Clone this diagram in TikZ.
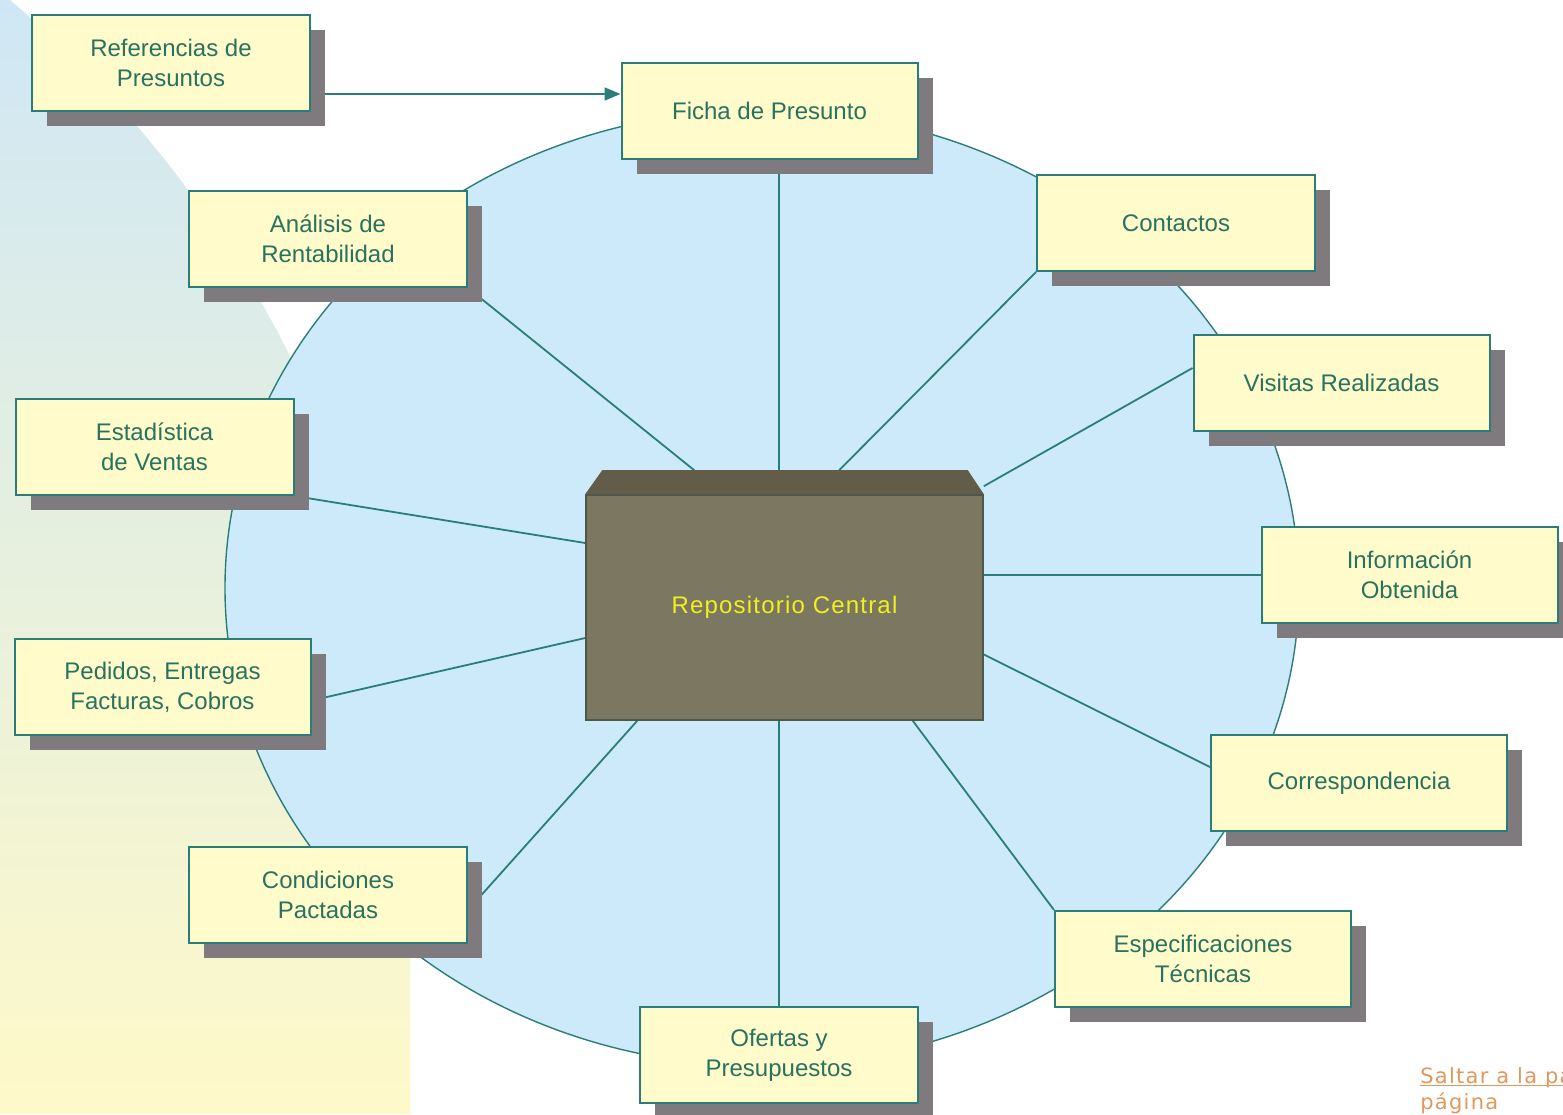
\documentclass[tikz,border=0pt]{standalone}
\usepackage{fontspec}
\setmainfont{Liberation Sans}
\newfontfamily\linkfont{DejaVu Sans}
\usepackage{tikz}
\usetikzlibrary{arrows.meta,calc,shadows,backgrounds}
\definecolor{teal1}{HTML}{2B7D78}
\definecolor{ink}{HTML}{28735F}
\definecolor{paper}{HTML}{FFFBCB}
\definecolor{shdw}{HTML}{7E7A7E}
\definecolor{sky}{HTML}{CDEAFA}
\definecolor{bgtop}{HTML}{CFE7F5}
\definecolor{bgmid}{HTML}{E4F1E4}
\definecolor{bgbot}{HTML}{FEF9C8}
\definecolor{repofill}{HTML}{7B7760}
\definecolor{repoedge}{HTML}{4E5849}
\definecolor{repotop}{HTML}{615D49}
\definecolor{repotxt}{HTML}{F2F01E}
\definecolor{linkc}{HTML}{E0985C}

\begin{document}
\begin{tikzpicture}[x=0.5pt,y=-0.5pt,
  box/.style={draw=teal1,line width=1pt,fill=paper,minimum width=139pt,minimum height=48pt,
    inner sep=2pt,align=center,text=ink,font=\fontsize{12}{15}\selectfont,
    drop shadow={shadow xshift=7.5pt,shadow yshift=-7.5pt,fill=shdw,opacity=1}},
  wide/.style={box,minimum width=148pt},
  spoke/.style={draw=teal1,line width=0.9pt}]
\useasboundingbox (0,0) rectangle (1563,1114);
\node[box](ref) at (171,63){Referencias de\\Presuntos};
\node[wide](ficha) at (769.5,111){Ficha de Presunto};
\node[box](ana) at (328,239){Análisis de\\Rentabilidad};
\node[box](cont) at (1176,223){Contactos};
\node[wide](vis) at (1341.5,383){Visitas Realizadas};
\node[box](est) at (154.5,447){Estadística\\de Ventas};
\node[wide](info) at (1409.5,575){Información\\Obtenida};
\node[wide](ped) at (162.5,687){Pedidos, Entregas\\Facturas, Cobros};
\node[wide](corr) at (1359,783){Correspondencia};
\node[box](cond) at (328,895){Condiciones\\Pactadas};
\node[wide](esp) at (1203,959){Especificaciones\\Técnicas};
\node[box](ofe) at (779,1055){Ofertas y\\Presupuestos};
\node[fill=repofill,draw=repoedge,line width=0.8pt,minimum width=198.5pt,minimum height=112.5pt,
  text=repotxt,font=\fontsize{12}{15}\selectfont\addfontfeature{LetterSpace=5}](repo) at (784.5,607.5){Repositorio Central};
\fill[repotop] (repo.north west) -- ++(17,-24) -- ($(repo.north east)+(-16,-24)$) -- (repo.north east) -- cycle;
\begin{scope}
\clip (0,0) rectangle (1563,1114);
\node[anchor=base west,inner sep=0,align=left,text=linkc,font=\linkfont\fontsize{10.5}{13}\selectfont\addfontfeature{LetterSpace=6}](salto) at (1420,1109){\underline{\smash{Saltar a la parte superior de la}}\\página};
\end{scope}
\begin{scope}[on background layer]
\shade[top color=bgtop,middle color=bgmid,bottom color=bgbot] (0,0) -- (10,0) .. controls (264,215) and (410,531) .. (410,864) -- (410,1114) -- (0,1114) -- cycle;
\filldraw[fill=sky,draw=teal1,line width=0.7pt] (762,588) ellipse [x radius=537,y radius=478];
\draw[spoke,-{Triangle[length=8pt,width=6.5pt]}] ($(ref.east)+(0,31)$) -- ($(ficha.west)+(0,-17)$);
\draw[spoke] (ficha.south -| ofe.north) -- ($(ofe.north |- repo.north)+(0,-24)$);
\draw[spoke] (ana.south east) -- ($(repo.north west)+(109,-24)$);
\draw[spoke] (cont.south west) -- ($(repo.north west)+(254,-24)$);
\draw[spoke] ($(vis.west)+(0,-15)$) -- ($(repo.north east)+(0,-8)$);
\draw[spoke] (est.south east) -- ($(repo.west)+(0,-64.5)$);
\draw[spoke] (info.west) -- (info.west -| repo.east);
\draw[spoke] ($(ped.east)+(0,13.5)$) -- ($(repo.west)+(0,30.5)$);
\draw[spoke] ($(corr.west)+(0,-16)$) -- ($(repo.east)+(0,47)$);
\draw[spoke] ($(cond.east)+(0,15)$) -- ($(repo.south west)+(52,0)$);
\draw[spoke] (esp.north west) -- ($(repo.south east)+(-71,0)$);
\draw[spoke] (ofe.north) -- (ofe.north |- repo.south);
\end{scope}
\end{tikzpicture}
\end{document}
